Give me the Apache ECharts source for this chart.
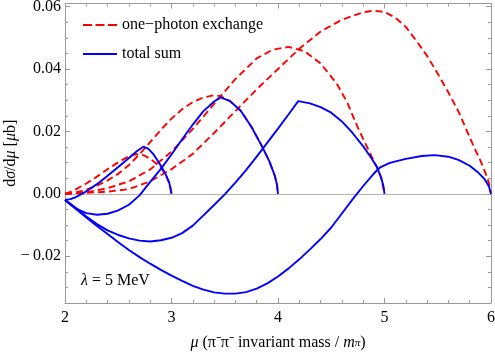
<!DOCTYPE html>
<html>
<head>
<meta charset="utf-8">
<script src="https://cdn.jsdelivr.net/npm/echarts@6/dist/echarts.min.js"></script>
<style>
html, body { margin: 0; padding: 0; background: #fff; }
#chart { width: 495px; height: 353px; }
</style>
</head>
<body>
<div id="chart"></div>
<script>
// one-photon exchange (red dashed), one curve per upper limit mu_max = 3,4,5,6
const red3 = [[2,0],[2.05,0.0006],[2.1,0.0014],[2.2,0.0033],[2.3,0.0055],[2.4,0.0079],[2.5,0.0101],[2.58,0.0117],[2.65,0.0126],[2.7,0.0127],[2.75,0.0122],[2.8,0.0112],[2.85,0.0099],[2.9,0.0083],[2.94,0.0064],[2.97,0.0042],[2.99,0.002],[3,0]];
const red4 = [[2,0],[2.1,0.0004],[2.2,0.0013],[2.3,0.0026],[2.4,0.0043],[2.5,0.0064],[2.6,0.0092],[2.7,0.0127],[2.8,0.0166],[2.9,0.0205],[3,0.0241],[3.1,0.0271],[3.2,0.0294],[3.3,0.0309],[3.4,0.0316],[3.46,0.0313],[3.55,0.0297],[3.65,0.0266],[3.75,0.0215],[3.85,0.0152],[3.92,0.0103],[3.97,0.0058],[3.99,0.003],[4,0]];
const red5 = [[2,0],[2.2,0.0005],[2.4,0.0018],[2.6,0.004],[2.8,0.0078],[3,0.0135],[3.2,0.0208],[3.4,0.0288],[3.6,0.0368],[3.8,0.0434],[3.95,0.0462],[4.1,0.0471],[4.25,0.0457],[4.4,0.0418],[4.55,0.0354],[4.65,0.0293],[4.75,0.0212],[4.85,0.014],[4.93,0.0085],[4.97,0.005],[5,0]];
const red6 = [[2,0],[2.2,0.0003],[2.4,0.0007],[2.6,0.0015],[2.8,0.004],[3,0.0079],[3.2,0.0128],[3.4,0.0195],[3.6,0.0265],[3.8,0.0335],[4,0.04],[4.2,0.0465],[4.4,0.052],[4.6,0.0558],[4.8,0.0582],[4.9,0.0587],[5,0.0583],[5.1,0.0565],[5.2,0.0535],[5.3,0.049],[5.4,0.0442],[5.5,0.0385],[5.6,0.0325],[5.7,0.026],[5.77,0.0205],[5.84,0.015],[5.9,0.0107],[5.95,0.0065],[5.98,0.0035],[6,0]];

// total sum (blue)
const blue3 = [[2,-0.002],[2.05,-0.0017],[2.1,-0.0011],[2.15,-0.0002],[2.2,0.0008],[2.3,0.0031],[2.4,0.0058],[2.5,0.0086],[2.6,0.0115],[2.68,0.0138],[2.735,0.0151],[2.78,0.0145],[2.83,0.0127],[2.88,0.0101],[2.92,0.0078],[2.95,0.0059],[2.98,0.0034],[3,0]];
const blue4 = [[2,-0.002],[2.05,-0.0033],[2.1,-0.0047],[2.2,-0.0062],[2.3,-0.0067],[2.4,-0.0064],[2.5,-0.0053],[2.6,-0.0035],[2.7,-0.0005],[2.8,0.0038],[2.9,0.008],[3,0.0126],[3.1,0.0175],[3.2,0.0222],[3.3,0.0265],[3.4,0.0296],[3.46,0.0309],[3.55,0.0297],[3.65,0.0266],[3.75,0.0215],[3.85,0.0152],[3.92,0.0103],[3.97,0.0058],[3.99,0.003],[4,0]];
const blue5 = [[2,-0.002],[2.05,-0.0032],[2.1,-0.0045],[2.2,-0.0073],[2.3,-0.0097],[2.4,-0.0117],[2.5,-0.0132],[2.6,-0.0143],[2.7,-0.015],[2.8,-0.0153],[2.9,-0.0149],[3,-0.0141],[3.1,-0.0126],[3.2,-0.0102],[3.3,-0.0069],[3.4,-0.0036],[3.5,-0.0002],[3.6,0.0036],[3.7,0.0076],[3.8,0.0119],[3.9,0.0164],[4,0.0209],[4.1,0.0255],[4.19,0.0297],[4.3,0.029],[4.4,0.0278],[4.5,0.026],[4.6,0.0232],[4.7,0.0195],[4.8,0.0152],[4.87,0.0118],[4.93,0.0085],[4.97,0.005],[4.99,0.0025],[5,0]];
const blue6 = [[2,-0.002],[2.05,-0.0034],[2.1,-0.0048],[2.2,-0.0076],[2.3,-0.0103],[2.4,-0.0129],[2.5,-0.0155],[2.6,-0.018],[2.7,-0.0203],[2.8,-0.0224],[2.9,-0.0244],[3,-0.0262],[3.1,-0.0279],[3.2,-0.0295],[3.3,-0.0307],[3.4,-0.0316],[3.5,-0.032],[3.6,-0.032],[3.7,-0.0315],[3.8,-0.0304],[3.9,-0.0287],[4,-0.0265],[4.1,-0.0239],[4.2,-0.021],[4.3,-0.0178],[4.4,-0.0145],[4.5,-0.0108],[4.6,-0.0063],[4.7,-0.0018],[4.8,0.0025],[4.9,0.0065],[4.96,0.0085],[5.05,0.0099],[5.2,0.0112],[5.35,0.0121],[5.47,0.0124],[5.6,0.0119],[5.7,0.0108],[5.8,0.009],[5.88,0.0068],[5.94,0.0047],[5.98,0.0024],[6,0]];

// ticks
const xMajor = [2, 3, 4, 5, 6];
const xMinor = [2.2,2.4,2.6,2.8,3.2,3.4,3.6,3.8,4.2,4.4,4.6,4.8,5.2,5.4,5.6,5.8];
const yMajor = [-0.02, 0, 0.02, 0.04, 0.06];
const yMinor = [-0.03,-0.025,-0.015,-0.01,-0.005,0.005,0.01,0.015,0.025,0.03,0.035,0.045,0.05,0.055];

const RED_NAME = 'one\u2212photon exchange';
const BLUE_NAME = 'total sum';
const FONT = 'Liberation Serif';
const FRAME = '#9a9a9a';

const chart = echarts.init(document.getElementById('chart'));

function curve(name, data, color, dashed) {
  return {
    type: 'line',
    name: name,
    data: data,
    showSymbol: false,
    symbol: 'none',
    smooth: false,
    silent: true,
    lineStyle: { color: color, width: 1.9, type: dashed ? [7, 4] : 'solid' },
    itemStyle: { color: color }
  };
}

function xAx(pos, values, len, opts) {
  return Object.assign({
    type: 'value', position: pos, min: 2, max: 6,
    axisLine: { show: false, onZero: false },
    axisTick: { show: true, inside: true, length: len, customValues: values, lineStyle: { color: FRAME } },
    axisLabel: { show: false },
    splitLine: { show: false }
  }, opts || {});
}
function yAx(pos, values, len, opts) {
  return Object.assign({
    type: 'value', position: pos, min: -0.035, max: 0.061,
    axisLine: { show: false, onZero: false },
    axisTick: { show: true, inside: true, length: len, customValues: values, lineStyle: { color: FRAME } },
    axisLabel: { show: false },
    splitLine: { show: false }
  }, opts || {});
}

const labelText = { fontFamily: FONT, fontSize: 16, color: '#000', lineHeight: 16 };

const option = {
  animation: false,
  backgroundColor: '#fff',
  grid: { left: 65, right: 4, top: 3.5, bottom: 50, outerBoundsMode: 'none', containLabel: false },
  legend: {
    orient: 'vertical',
    left: 78, top: 12,
    itemWidth: 34, itemHeight: 2, itemGap: 13,
    data: [
      { name: RED_NAME, icon: 'path://M0,0h9v2h-9zM12.5,0h9v2h-9zM25,0h9v2h-9z' },
      { name: BLUE_NAME, icon: 'path://M0,0h34v2h-34z' }
    ],
    textStyle: labelText
  },
  xAxis: [
    xAx('bottom', xMajor, 5, {
      axisLine: { show: true, onZero: false, lineStyle: { color: FRAME, width: 1 } },
      axisLabel: { show: true, customValues: xMajor, margin: 7, fontFamily: FONT, fontSize: 16, color: '#000' },
      name: '{i|\u03bc} (\u03c0\u207b\u03c0\u207b invariant mass / {i|m}{b|\u03c0})',
      nameLocation: 'middle', nameGap: 30, nameMoveOverlap: false,
      nameTextStyle: {
        fontFamily: FONT, fontSize: 16, color: '#000', lineHeight: 20,
        rich: {
          i: { fontFamily: FONT, fontSize: 16, fontStyle: 'italic', lineHeight: 20 },
          b: { fontFamily: FONT, fontSize: 11, fontStyle: 'italic', lineHeight: 11, padding: [5, 0, 0, 0], verticalAlign: 'top' }
        }
      }
    }),
    xAx('bottom', xMinor, 3),
    xAx('top', xMajor, 5, { axisLine: { show: true, onZero: false, lineStyle: { color: FRAME, width: 1 } } }),
    xAx('top', xMinor, 3),
    // horizontal axis line at zero
    {
      type: 'value', position: 'bottom', min: 2, max: 6,
      axisLine: { show: true, onZero: true, onZeroAxisIndex: 0, lineStyle: { color: '#b4b4b4', width: 1.2 } },
      axisTick: { show: false }, axisLabel: { show: false }, splitLine: { show: false }
    }
  ],
  yAxis: [
    yAx('left', yMajor, 5, {
      axisLine: { show: true, onZero: false, lineStyle: { color: FRAME, width: 1 } },
      axisLabel: {
        show: true, customValues: yMajor, margin: 4, fontFamily: FONT, fontSize: 16, color: '#000',
        formatter: function (v) {
          if (Math.abs(v) < 1e-9) return '0.00';
          return (v < 0 ? '\u2212\u2009' : '') + Math.abs(v).toFixed(2);
        }
      },
      name: 'd{i|\u03c3}/d{i|\u03bc} [{i|\u03bc}b]',
      nameLocation: 'middle', nameGap: 46, nameRotate: 90, nameMoveOverlap: false,
      nameTextStyle: {
        fontFamily: FONT, fontSize: 16, color: '#000',
        rich: { i: { fontFamily: FONT, fontSize: 16, fontStyle: 'italic' } }
      }
    }),
    yAx('left', yMinor, 3),
    yAx('right', yMajor, 5, { axisLine: { show: true, onZero: false, lineStyle: { color: FRAME, width: 1 } } }),
    yAx('right', yMinor, 3)
  ],
  graphic: [{
    type: 'text', left: 81, top: 273,
    style: {
      text: '{i|\u03bb} = 5 MeV',
      font: '16px "Liberation Serif"', fill: '#000',
      rich: { i: { fontFamily: FONT, fontSize: 16, fontStyle: 'italic' } }
    }
  }],
  series: [
    curve(RED_NAME, red3, '#ff0000', true),
    curve(RED_NAME, red4, '#ff0000', true),
    curve(RED_NAME, red5, '#ff0000', true),
    curve(RED_NAME, red6, '#ff0000', true),
    curve(BLUE_NAME, blue3, '#0000ff', false),
    curve(BLUE_NAME, blue4, '#0000ff', false),
    curve(BLUE_NAME, blue5, '#0000ff', false),
    curve(BLUE_NAME, blue6, '#0000ff', false)
  ]
};

chart.setOption(option);
</script>
</body>
</html>
